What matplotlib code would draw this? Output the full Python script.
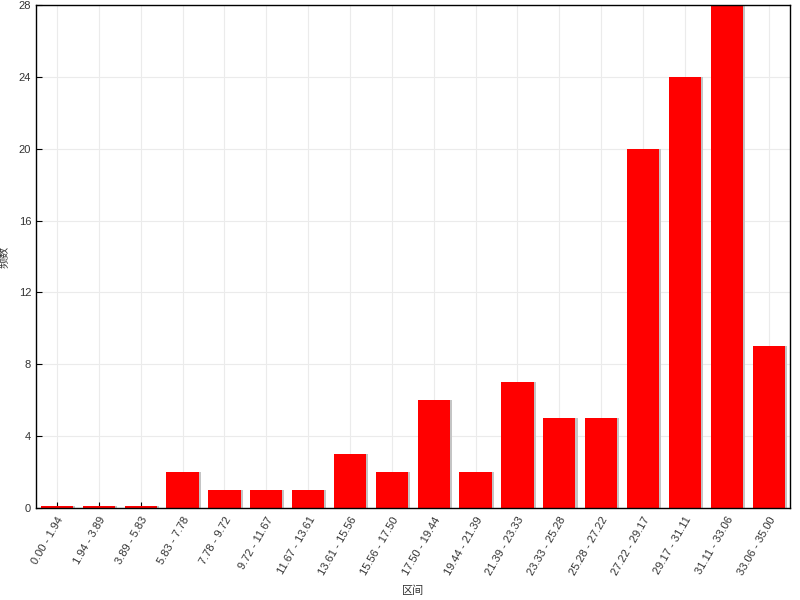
import numpy as np
import matplotlib
matplotlib.use("Agg")
import matplotlib.pyplot as plt
import matplotlib.patheffects as pe

plt.rcParams['font.family'] = ['Liberation Sans', 'Noto Sans CJK SC', 'DejaVu Sans']

# bin edges and counts
edges = [0.00, 1.94, 3.89, 5.83, 7.78, 9.72, 11.67, 13.61, 15.56, 17.50,
         19.44, 21.39, 23.33, 25.28, 27.22, 29.17, 31.11, 33.06, 35.00]
counts = [0, 0, 0, 2, 1, 1, 1, 3, 2, 6, 2, 7, 5, 5, 20, 24, 28, 9]
bin_labels = ["%.2f - %.2f" % (a, b) for a, b in zip(edges[:-1], edges[1:])]
y_ticks = [0, 4, 8, 12, 16, 20, 24, 28]
x_title = "区间"
y_title = "频数"

fig = plt.figure(figsize=(8, 6), dpi=100)
ax = fig.add_axes([0.045, 0.153, 0.942, 0.839])

x = np.arange(len(counts))
# zero bins still show a thin sliver like the original
heights = np.maximum(np.array(counts, dtype=float), 0.1)
shadow = [pe.SimplePatchShadow(offset=(1.5, 0), shadow_rgbFace='#c4c4c4', alpha=1.0),
          pe.Normal()]
ax.bar(x, heights, width=0.77, color='#ff0000', linewidth=0,
       zorder=3, path_effects=shadow)

ax.set_xlim(-0.5, len(counts) - 0.5)
ax.set_ylim(0, 28)
ax.set_yticks(y_ticks)
ax.set_xticks(x)
ax.set_xticklabels(bin_labels, rotation=60, ha='right', rotation_mode='anchor')
ax.tick_params(axis='both', direction='in', length=4, width=0.8,
               labelsize=8, labelcolor='#333333')
ax.tick_params(axis='x', pad=5)
ax.grid(True, color='#ebebeb', linewidth=0.8, zorder=0)
for s in ax.spines.values():
    s.set_linewidth(1.0)
    s.set_color('black')
    s.set_zorder(4)

ax.set_xlabel(x_title, fontsize=8, color='#333333', labelpad=6)
ax.set_ylabel(y_title, fontsize=8, color='#333333', labelpad=7)

fig.savefig("out.png", dpi=100)
